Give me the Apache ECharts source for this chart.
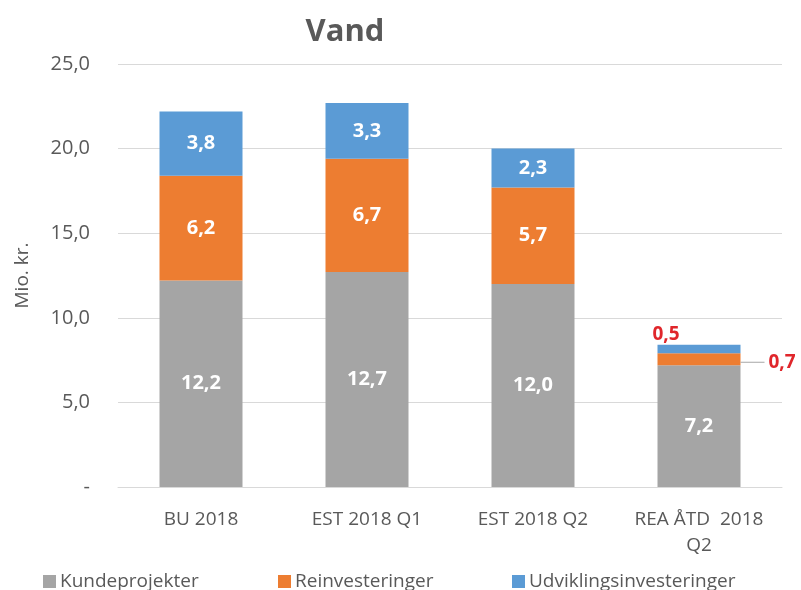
<!DOCTYPE html>
<html>
<head>
<meta charset="utf-8">
<script src="https://cdn.jsdelivr.net/npm/echarts@6/dist/echarts.min.js"></script>
<style>
  html, body { margin: 0; padding: 0; background: #fff; }
  #chart { width: 801px; height: 590px; }
</style>
</head>
<body>
<div id="chart"></div>
<script>
const categories = ['BU 2018', 'EST 2018 Q1', 'EST 2018 Q2', 'REA ÅTD  2018\nQ2'];
const kundeprojekter = [12.2, 12.7, 12.0, 7.2];
const reinvesteringer = [6.2, 6.7, 5.7, 0.7];
const udviklingsinvesteringer = [3.8, 3.3, 2.3, 0.5];
const seriesNames = ['Kundeprojekter', 'Reinvesteringer', 'Udviklingsinvesteringer'];
const colors = ['#A5A5A5', '#ED7D31', '#5B9BD5'];

const fmt = v => v.toFixed(1).replace('.', ',');
const font = '"Open Sans", "Noto Sans", sans-serif';

const insideLabel = {
    show: true,
    position: 'inside',
    color: '#fff',
    fontWeight: 'bold',
    fontSize: 20,
    fontFamily: font,
    formatter: p => fmt(p.value)
};

// small last bar gets its labels outside in red
const redLabel = {
    color: '#E0262B',
    fontWeight: 'bold',
    fontSize: 19,
    fontFamily: font
};

function buildData(values, lastLabel) {
    return values.map((v, i) => {
        if (i === values.length - 1 && lastLabel) {
            return { value: v, label: lastLabel };
        }
        return v;
    });
}

const chart = echarts.init(document.getElementById('chart'));

chart.setOption({
    animation: false,
    title: {
        text: 'Vand',
        left: 340,
        textAlign: 'center',
        top: 12,
        textStyle: { fontSize: 31, fontWeight: 'bold', color: '#595959', fontFamily: font }
    },
    color: colors,
    legend: [0, 1, 2].map(i => ({
        data: [seriesNames[i]],
        left: [38, 273, 507][i],
        top: 567,
        icon: 'rect',
        itemWidth: 13,
        itemHeight: 13,
        itemGap: 4,
        textStyle: { fontSize: 19, color: '#595959', fontFamily: font, padding: [0, 0, 0, -1] }
    })),
    grid: { left: 118, right: 19, top: 64, bottom: 103 },
    xAxis: {
        type: 'category',
        data: categories,
        axisLine: { lineStyle: { color: '#D9D9D9' } },
        axisTick: { show: false },
        axisLabel: { interval: 0, color: '#595959', fontSize: 19, fontFamily: font, margin: 20, lineHeight: 26 }
    },
    yAxis: {
        type: 'value',
        min: 0,
        max: 25,
        interval: 5,
        name: 'Mio. kr.',
        nameLocation: 'middle',
        nameGap: 86,
        nameTextStyle: { color: '#595959', fontSize: 19, fontFamily: font },
        axisLine: { show: false },
        axisTick: { show: false },
        splitLine: { lineStyle: { color: '#D9D9D9' } },
        axisLabel: {
            color: '#595959',
            fontSize: 20,
            fontFamily: font,
            margin: 28,
            formatter: v => v === 0 ? '-' : fmt(v)
        }
    },
    series: [
        {
            name: seriesNames[0],
            type: 'bar',
            stack: 'total',
            barWidth: '50%',
            label: insideLabel,
            data: buildData(kundeprojekter)
        },
        {
            name: seriesNames[1],
            type: 'bar',
            stack: 'total',
            label: insideLabel,
            data: buildData(reinvesteringer, Object.assign({}, redLabel, {
                show: true,
                position: 'right',
                distance: 0,
                offset: [0, 3],
                formatter: p => '{line|}{v|' + fmt(p.value) + '}',
                rich: {
                    line: { width: 24, height: 1, backgroundColor: '#A6A6A6' },
                    v: Object.assign({ padding: [0, 0, 0, 4] }, redLabel)
                }
            }))
        },
        {
            name: seriesNames[2],
            type: 'bar',
            stack: 'total',
            label: insideLabel,
            data: buildData(udviklingsinvesteringer, Object.assign({}, redLabel, {
                show: true,
                position: 'top',
                distance: 1,
                offset: [-33, 0],
                formatter: p => fmt(p.value)
            }))
        }
    ]
});
</script>
</body>
</html>
